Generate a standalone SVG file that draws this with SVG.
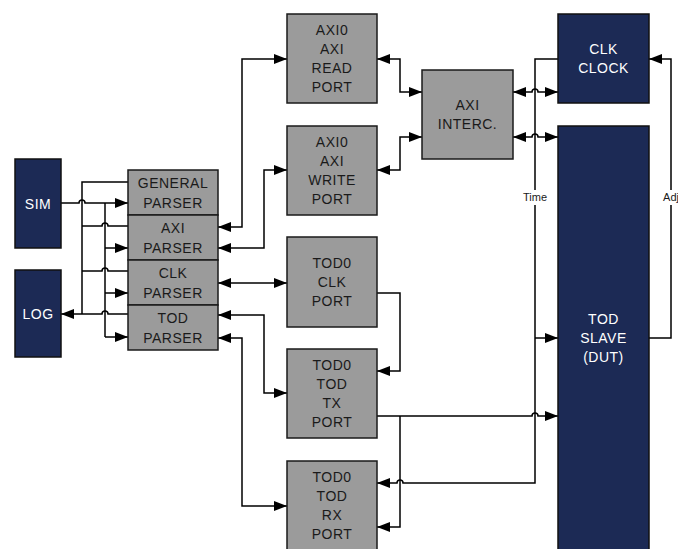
<svg xmlns="http://www.w3.org/2000/svg" width="678" height="549" viewBox="0 0 678 549">
<style>
.g{fill:#9b9b9b;stroke:#1a1a1a;stroke-width:1.5}
.n{fill:#1c2a55;stroke:#111;stroke-width:1.5}
.t{font-family:"Liberation Sans",Arial,sans-serif;font-size:14px;letter-spacing:0.5px;text-anchor:middle;fill:#1a1a1a}
.w{fill:#ffffff}
.c path{fill:none;stroke:#000;stroke-width:1.5}
.lb{font-family:"Liberation Sans",Arial,sans-serif;font-size:11px;text-anchor:middle;fill:#1a1a1a}
</style>
<defs>
<marker id="a" viewBox="0 0 13 10" refX="13" refY="5" markerWidth="13" markerHeight="10" markerUnits="userSpaceOnUse" orient="auto-start-reverse"><path d="M0,0 L13,5 L0,10 z" fill="#000"/></marker>
</defs>
<rect width="678" height="549" fill="#fff"/>
<g class="c">
<path d="M61,203 H79 A3,3 0 0 1 85,203 H128" marker-end="url(#a)"/>
<path d="M105,203 V337"/>
<path d="M105,248 H128" marker-end="url(#a)"/>
<path d="M105,293 H128" marker-end="url(#a)"/>
<path d="M105,337 H128" marker-end="url(#a)"/>
<path d="M128,182 H82 V314"/>
<path d="M128,226 H108 A3,3 0 0 0 102,226 H82"/>
<path d="M128,271 H108 A3,3 0 0 0 102,271 H82"/>
<path d="M128,314 H108 A3,3 0 0 0 102,314 H61" marker-end="url(#a)"/>
<path d="M218,227 H242 V59 H287" marker-start="url(#a)" marker-end="url(#a)"/>
<path d="M218,248 H264 V170 H287" marker-start="url(#a)" marker-end="url(#a)"/>
<path d="M218,283 H287" marker-start="url(#a)" marker-end="url(#a)"/>
<path d="M218,315 H264 V393 H287" marker-start="url(#a)" marker-end="url(#a)"/>
<path d="M218,338 H242 V506 H287" marker-start="url(#a)" marker-end="url(#a)"/>
<path d="M377,59 H400 V92 H422" marker-start="url(#a)" marker-end="url(#a)"/>
<path d="M377,170 H400 V137 H422" marker-start="url(#a)" marker-end="url(#a)"/>
<path d="M513,92 H532 A3,3 0 0 1 538,92 H558" marker-start="url(#a)" marker-end="url(#a)"/>
<path d="M513,137 H532 A3,3 0 0 1 538,137 H558" marker-start="url(#a)" marker-end="url(#a)"/>
<path d="M558,59 H535 V483 H403 A3,3 0 0 0 397,483 H377" marker-end="url(#a)"/>
<path d="M535,338 H558" marker-end="url(#a)"/>
<path d="M377,416 H532 A3,3 0 0 1 538,416 H558" marker-end="url(#a)"/>
<path d="M400,416 V527 H377" marker-end="url(#a)"/>
<path d="M377,293 H400 V371 H377" marker-end="url(#a)"/>
<path d="M649,338 H671 V59 H649" marker-end="url(#a)"/>
</g>
<g id="label-time"><rect x="520" y="190" width="30" height="15" fill="#fff"/><text class="lb" x="535" y="201">Time</text></g>
<g id="label-adj"><rect x="660" y="190" width="22" height="15" fill="#fff"/><text class="lb" x="671" y="201">Adj</text></g>
<g id="sim"><rect class="n" x="15" y="159" width="46" height="89"/><text class="t w" x="38" y="209">SIM</text></g>
<g id="log"><rect class="n" x="15" y="270" width="46" height="87"/><text class="t w" x="38" y="319">LOG</text></g>
<g id="general-parser"><rect class="g" x="128" y="170" width="90" height="45"/><text class="t" x="173" y="188">GENERAL</text><text class="t" x="173" y="208">PARSER</text></g>
<g id="axi-parser"><rect class="g" x="128" y="215" width="90" height="45"/><text class="t" x="173" y="233">AXI</text><text class="t" x="173" y="253">PARSER</text></g>
<g id="clk-parser"><rect class="g" x="128" y="260" width="90" height="45"/><text class="t" x="173" y="278">CLK</text><text class="t" x="173" y="298">PARSER</text></g>
<g id="tod-parser"><rect class="g" x="128" y="305" width="90" height="45"/><text class="t" x="173" y="323">TOD</text><text class="t" x="173" y="343">PARSER</text></g>
<g id="axi-read"><rect class="g" x="287" y="14" width="90" height="89"/><text class="t" x="332" y="35">AXI0</text><text class="t" x="332" y="54">AXI</text><text class="t" x="332" y="73">READ</text><text class="t" x="332" y="92">PORT</text></g>
<g id="axi-write"><rect class="g" x="287" y="126" width="90" height="89"/><text class="t" x="332" y="147">AXI0</text><text class="t" x="332" y="166">AXI</text><text class="t" x="332" y="185">WRITE</text><text class="t" x="332" y="204">PORT</text></g>
<g id="axi-interc"><rect class="g" x="422" y="70" width="91" height="89"/><text class="t" x="467.5" y="110">AXI</text><text class="t" x="467.5" y="129">INTERC.</text></g>
<g id="tod-clk-port"><rect class="g" x="287" y="237" width="90" height="90"/><text class="t" x="332" y="268">TOD0</text><text class="t" x="332" y="287">CLK</text><text class="t" x="332" y="306">PORT</text></g>
<g id="tod-tx-port"><rect class="g" x="287" y="349" width="90" height="89"/><text class="t" x="332" y="370">TOD0</text><text class="t" x="332" y="389">TOD</text><text class="t" x="332" y="408">TX</text><text class="t" x="332" y="427">PORT</text></g>
<g id="tod-rx-port"><rect class="g" x="287" y="461" width="90" height="89"/><text class="t" x="332" y="482">TOD0</text><text class="t" x="332" y="501">TOD</text><text class="t" x="332" y="520">RX</text><text class="t" x="332" y="539">PORT</text></g>
<g id="clk-clock"><rect class="n" x="558" y="14" width="91" height="89"/><text class="t w" x="603.5" y="54">CLK</text><text class="t w" x="603.5" y="73">CLOCK</text></g>
<g id="tod-slave"><rect class="n" x="558" y="126" width="91" height="424"/><text class="t w" x="603.5" y="324">TOD</text><text class="t w" x="603.5" y="343">SLAVE</text><text class="t w" x="603.5" y="362">(DUT)</text></g>
</svg>
